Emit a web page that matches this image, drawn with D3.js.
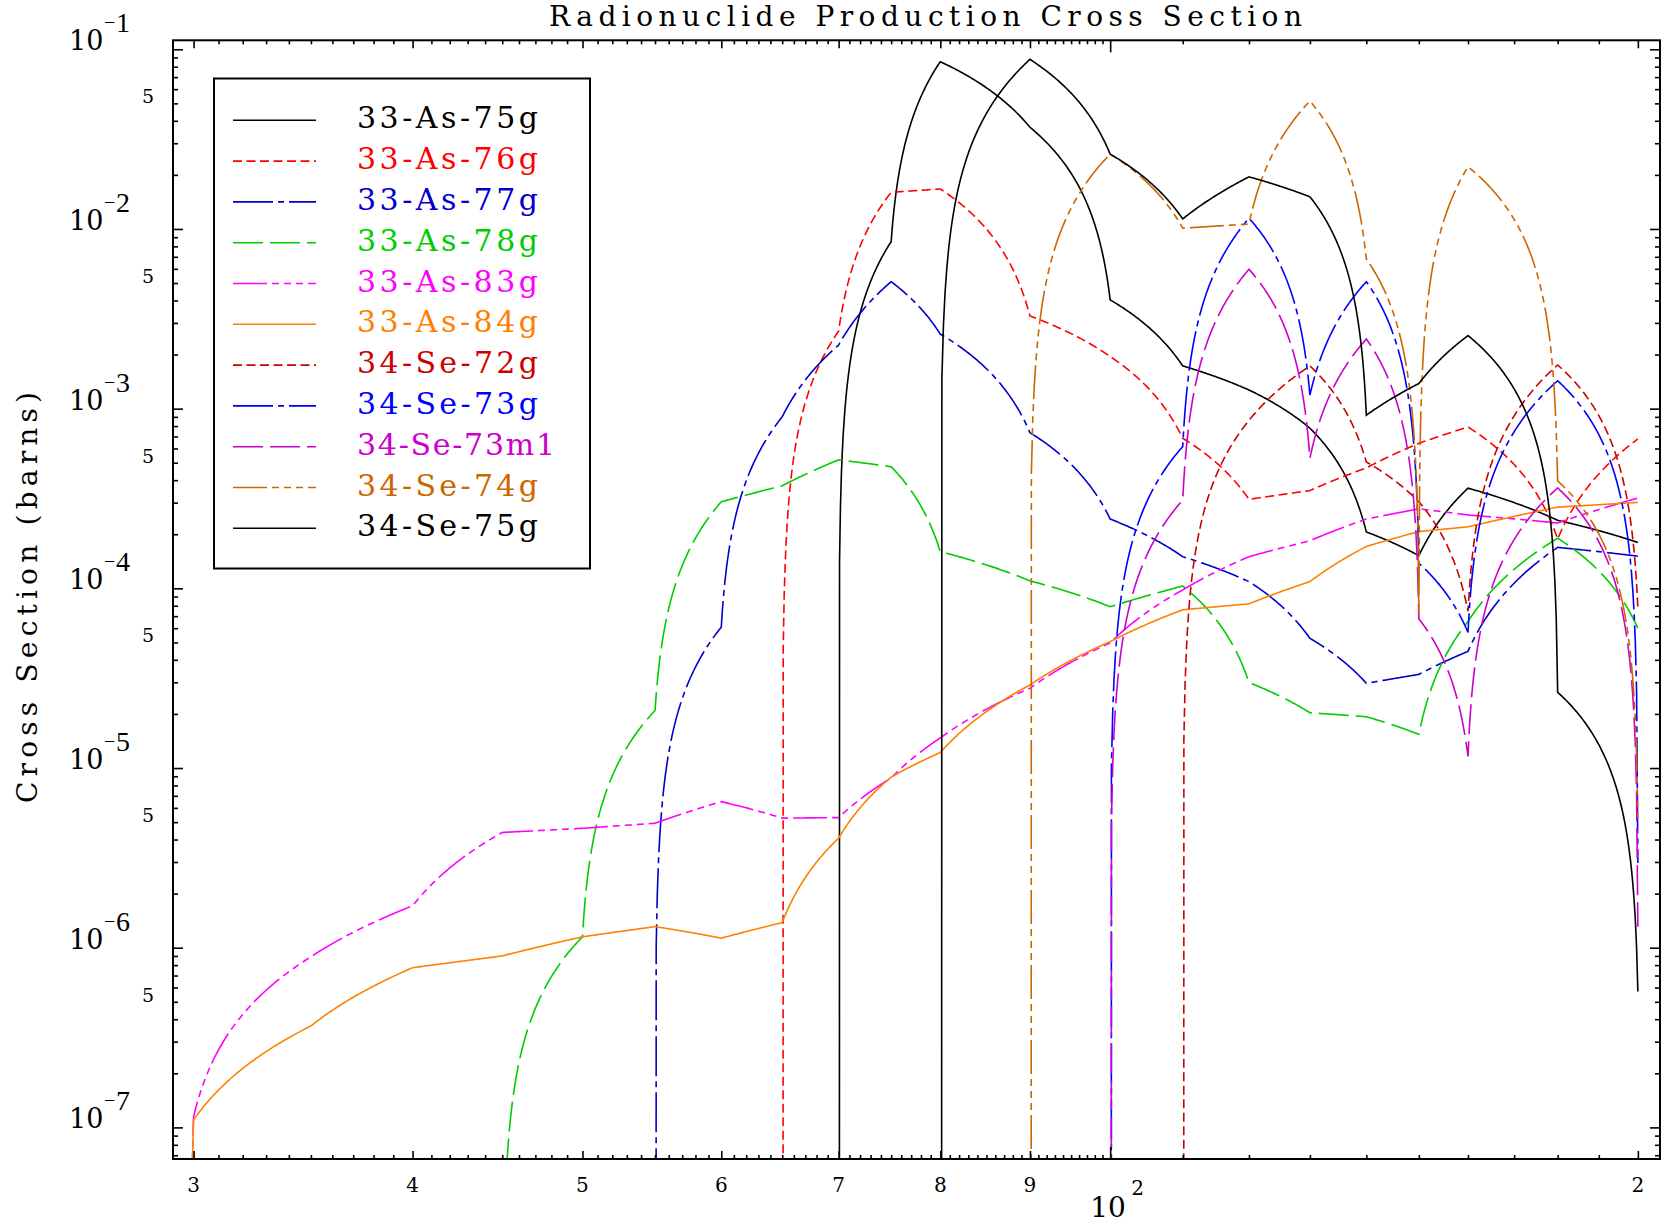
<!DOCTYPE html>
<html>
<head>
<meta charset="utf-8">
<script src="https://cdn.jsdelivr.net/npm/d3@7"></script>
<style>
  body { margin: 0; background: #fff; }
  svg { display: block; font-family: "DejaVu Serif", serif; }
</style>
</head>
<body>
<svg id="chart"></svg>
<script>
// incident energy grid (MeV) and production cross sections (barns)
const energies = [29.9, 30, 35, 40, 45, 50, 55, 60, 65, 70, 75, 80, 90, 100, 110, 120, 130, 140, 150, 160, 180, 200]

const as75g = [0, 0, 0, 0, 0, 0, 0, 0, 0, 0, 8.5e-3, 0.0853, 0.0368, 4.03e-3, 1.73e-3, 1.27e-3, 7.78e-4, 2.06e-4, 1.52e-4, 3.61e-4, 2.39e-4, 1.8e-4]
const as76g = [0, 0, 0, 0, 0, 0, 0, 0, 0, 2.7e-3, 0.016, 0.0167, 3.28e-3, 1.95e-3, 6.84e-4, 3.13e-4, 3.5e-4, 4.68e-4, 6.41e-4, 7.9e-4, 1.88e-4, 6.78e-4]
const as77g = [0, 0, 0, 0, 0, 0, 0, 6.08e-5, 9.0e-4, 2.26e-3, 5.09e-3, 2.6e-3, 7.35e-4, 2.43e-4, 1.5e-4, 1.09e-4, 5.27e-5, 2.96e-5, 3.32e-5, 4.46e-5, 1.69e-4, 1.51e-4]
const as78g = [0, 0, 0, 0, 0, 1.15e-6, 2.09e-5, 3.03e-4, 3.72e-4, 5.19e-4, 4.75e-4, 1.6e-4, 1.1e-4, 7.9e-5, 1.03e-4, 2.99e-5, 2.03e-5, 1.93e-5, 1.54e-5, 6.53e-5, 1.9e-4, 6.0e-5]
const as83g = [0, 1.15e-7, 8.9e-7, 1.71e-6, 4.38e-6, 4.62e-6, 4.93e-6, 6.5e-6, 5.26e-6, 5.3e-6, 8.8e-6, 1.47e-5, 2.78e-5, 4.97e-5, 9.8e-5, 1.5e-4, 1.84e-4, 2.43e-4, 2.77e-4, 2.56e-4, 2.31e-4, 3.18e-4]
const as84g = [0, 1.1e-7, 3.67e-7, 7.74e-7, 9.0e-7, 1.15e-6, 1.31e-6, 1.13e-6, 1.38e-6, 4.07e-6, 8.9e-6, 1.22e-5, 2.9e-5, 5.05e-5, 7.6e-5, 8.2e-5, 1.09e-4, 1.71e-4, 2.07e-4, 2.2e-4, 2.83e-4, 3.01e-4]
const se72g = [0, 0, 0, 0, 0, 0, 0, 0, 0, 0, 0, 0, 0, 0, 0, 8.6e-4, 1.73e-3, 5.05e-4, 3.03e-4, 7.45e-5, 1.75e-3, 7.8e-5]
const se73g = [0, 0, 0, 0, 0, 0, 0, 0, 0, 0, 0, 0, 0, 0, 6.15e-4, 0.01147, 1.19e-3, 5.09e-3, 1.38e-4, 5.69e-5, 1.43e-3, 2.96e-6]
const se73m1 = [0, 0, 0, 0, 0, 0, 0, 0, 0, 0, 0, 0, 0, 0, 3.1e-4, 5.97e-3, 5.3e-4, 2.44e-3, 6.76e-5, 1.16e-5, 3.62e-4, 1.31e-6]
const se74g = [0, 0, 0, 0, 0, 0, 0, 0, 0, 0, 0, 0, 0, 0.0261, 0.0101, 0.01066, 0.0515, 6.81e-3, 7.26e-5, 0.0222, 3.96e-4, 5.3e-6]
const se75g = [0, 0, 0, 0, 0, 0, 0, 0, 0, 0, 0, 0, 0.0879, 0.0261, 0.01137, 0.0195, 0.0151, 9.2e-4, 1.38e-3, 2.55e-3, 2.64e-5, 5.7e-7]

const seriesNames = ['33-As-75g', '33-As-76g', '33-As-77g', '33-As-78g', '33-As-83g', '33-As-84g',
    '34-Se-72g', '34-Se-73g', '34-Se-73m1', '34-Se-74g', '34-Se-75g']
const seriesValues = [as75g, as76g, as77g, as78g, as83g, as84g, se72g, se73g, se73m1, se74g, se75g]

// tick labels
const xLabelValues = [30, 40, 50, 60, 70, 80, 90, 200]
const xLabelText = ['3', '4', '5', '6', '7', '8', '9', '2']
const yDecadeExps = [-1, -2, -3, -4, -5, -6, -7]
const yFiveValues = [5e-2, 5e-3, 5e-4, 5e-5, 5e-6, 5e-7]

// line styles (IDL-like)
const colors = ['#000000', '#ff0000', '#0000cd', '#00cc00', '#ff00ff', '#ff8000',
    '#cc0000', '#0000ff', '#cc00cc', '#cc6600', '#000000']
const dashes = ['none', '9,4.5', '40,5,6,5', '30,7', '34,5,7,5,7,5,7,5', 'none',
    '9,4.5', '40,5,6,5', '30,7', '34,5,7,5,7,5,7,5', 'none']


const width = 1663
const height = 1225
const pLeft = 173, pRight = 1660, pTop = 40.3, pBottom = 1159

const svg = d3.select('#chart')
    .attr('width', width)
    .attr('height', height)
    .style('background', '#fff')

const x = d3.scaleLog().domain([29.2, 205.9]).range([pLeft, pRight])
const y = d3.scaleLog().domain([6.67e-8, 0.1122]).range([pBottom, pTop])

const FLOOR = 1e-30
const STEPS = 60

// linear-linear interpolation between points, drawn on log-log axes
const curveLinLin = context => {
    let px0, py0, first
    return {
        areaStart() {}, areaEnd() {},
        lineStart() { first = true },
        lineEnd() {},
        point(px, py) {
            if (first) { context.moveTo(px, py); first = false }
            else {
                const e0 = x.invert(px0), e1 = x.invert(px)
                const s0 = y.invert(py0), s1 = y.invert(py)
                for (let k = 1; k <= STEPS; k++) {
                    const t = k / STEPS
                    context.lineTo(x(e0 + t * (e1 - e0)), y(Math.max(s0 + t * (s1 - s0), FLOOR)))
                }
            }
            px0 = px; py0 = py
        }
    }
}

svg.append('clipPath').attr('id', 'plotclip')
    .append('rect')
    .attr('x', pLeft).attr('y', pTop)
    .attr('width', pRight - pLeft).attr('height', pBottom - pTop)

const line = d3.line()
    .x(d => x(d[0]))
    .y(d => y(Math.max(d[1], FLOOR)))
    .curve(curveLinLin)

// curves
svg.append('g')
    .attr('clip-path', 'url(#plotclip)')
    .selectAll('path')
    .data(seriesValues)
    .join('path')
    .attr('d', vals => line(energies.map((e, i) => [e, vals[i]])))
    .attr('fill', 'none')
    .attr('stroke', (d, i) => colors[i])
    .attr('stroke-width', 1.6)
    .attr('stroke-dasharray', (d, i) => dashes[i])


// ticks
const xMinor = d3.range(31, 100).filter(v => v % 10 !== 0).concat(d3.range(110, 200, 10))
const xMid = [30, 40, 50, 60, 70, 80, 90, 200]
const yMinor = []
for (let n = -8; n <= -1; n++) {
    for (let k = 2; k <= 9; k++) {
        const v = k * Math.pow(10, n)
        if (v > 6.67e-8 && v < 0.1122) yMinor.push(v)
    }
}
const yMajor = yDecadeExps.map(e => Math.pow(10, e))

const tickGroup = (axis, tx, ty) => svg.append('g')
    .attr('transform', `translate(${tx},${ty})`)
    .call(axis)
    .call(g => g.select('.domain').remove())
    .call(g => g.selectAll('line').attr('stroke', '#000').attr('stroke-width', 1.6))

const xTicks = [[xMinor, 4], [xMid, 8], [[100], 12]]
xTicks.forEach(([vals, len]) => {
    tickGroup(d3.axisTop(x).tickValues(vals).tickSize(len).tickFormat(''), 0, pBottom)
    tickGroup(d3.axisBottom(x).tickValues(vals).tickSize(len).tickFormat(''), 0, pTop)
})
const yTicks = [[yMinor, 5], [yMajor, 10]]
yTicks.forEach(([vals, len]) => {
    tickGroup(d3.axisRight(y).tickValues(vals).tickSize(len).tickFormat(''), pLeft, 0)
    tickGroup(d3.axisLeft(y).tickValues(vals).tickSize(len).tickFormat(''), pRight, 0)
})

// frame
svg.append('rect')
    .attr('x', pLeft).attr('y', pTop)
    .attr('width', pRight - pLeft).attr('height', pBottom - pTop)
    .attr('fill', 'none')
    .attr('stroke', '#000')
    .attr('stroke-width', 2)


// x labels
svg.append('g')
    .selectAll('text')
    .data(xLabelValues)
    .join('text')
    .attr('x', d => x(d))
    .attr('y', 1192)
    .attr('text-anchor', 'middle')
    .attr('font-size', 20)
    .text((d, i) => xLabelText[i])

const xDec = svg.append('text')
    .attr('x', x(100) - 20)
    .attr('y', 1217)
    .attr('font-size', 28)
    .text('10')
xDec.append('tspan')
    .attr('x', x(100) + 21)
    .attr('y', 1195)
    .attr('font-size', 20)
    .text('2')

// y labels
svg.append('g')
    .selectAll('text')
    .data(yFiveValues)
    .join('text')
    .attr('x', 148)
    .attr('y', d => y(d) + 0)
    .attr('text-anchor', 'middle')
    .attr('font-size', 19)
    .text('5')

const yDec = svg.append('g')
    .selectAll('text')
    .data(yDecadeExps)
    .join('text')
    .attr('x', 69)
    .attr('y', d => y(Math.pow(10, d)) + 1)
    .attr('font-size', 27)
    .text('10')
yDec.append('tspan')
    .attr('x', 104)
    .attr('y', d => y(Math.pow(10, d)) - 20)
    .attr('font-family', '"Liberation Serif", serif')
    .attr('font-size', 20)
    .text('\u2212')
yDec.append('tspan')
    .attr('x', 116)
    .attr('y', d => y(Math.pow(10, d)) - 17)
    .attr('font-family', '"Liberation Serif", serif')
    .attr('font-size', 28)
    .text(d => String(-d))


// titles
svg.append('text')
    .attr('x', 549)
    .attr('y', 26)
    .attr('font-size', 28)
    .attr('textLength', 753)
    .attr('lengthAdjust', 'spacing')
    .text('Radionuclide Production Cross Section')

svg.append('text')
    .attr('transform', 'translate(37,803) rotate(-90)')
    .attr('font-size', 28)
    .attr('textLength', 411)
    .attr('lengthAdjust', 'spacing')
    .text('Cross Section (barns)')


// legend
const legend = svg.append('g')
legend.append('rect')
    .attr('x', 214).attr('y', 78.5)
    .attr('width', 376).attr('height', 490)
    .attr('fill', '#fff')
    .attr('stroke', '#000')
    .attr('stroke-width', 2)

const rows = legend.selectAll('g.row')
    .data(seriesNames)
    .join('g')
    .attr('class', 'row')
    .attr('transform', (d, i) => `translate(0,${120.3 + i * 40.8})`)

rows.append('line')
    .attr('x1', 233).attr('x2', 316)
    .attr('stroke', (d, i) => colors[i])
    .attr('stroke-width', 1.6)
    .attr('stroke-dasharray', (d, i) => dashes[i])

rows.append('text')
    .attr('x', 357)
    .attr('y', 8)
    .attr('font-size', 30)
    .attr('textLength', d => d.length > 9 ? 198 : 181)
    .attr('lengthAdjust', 'spacing')
    .attr('fill', (d, i) => colors[i])
    .text(d => d)
</script>
</body>
</html>
